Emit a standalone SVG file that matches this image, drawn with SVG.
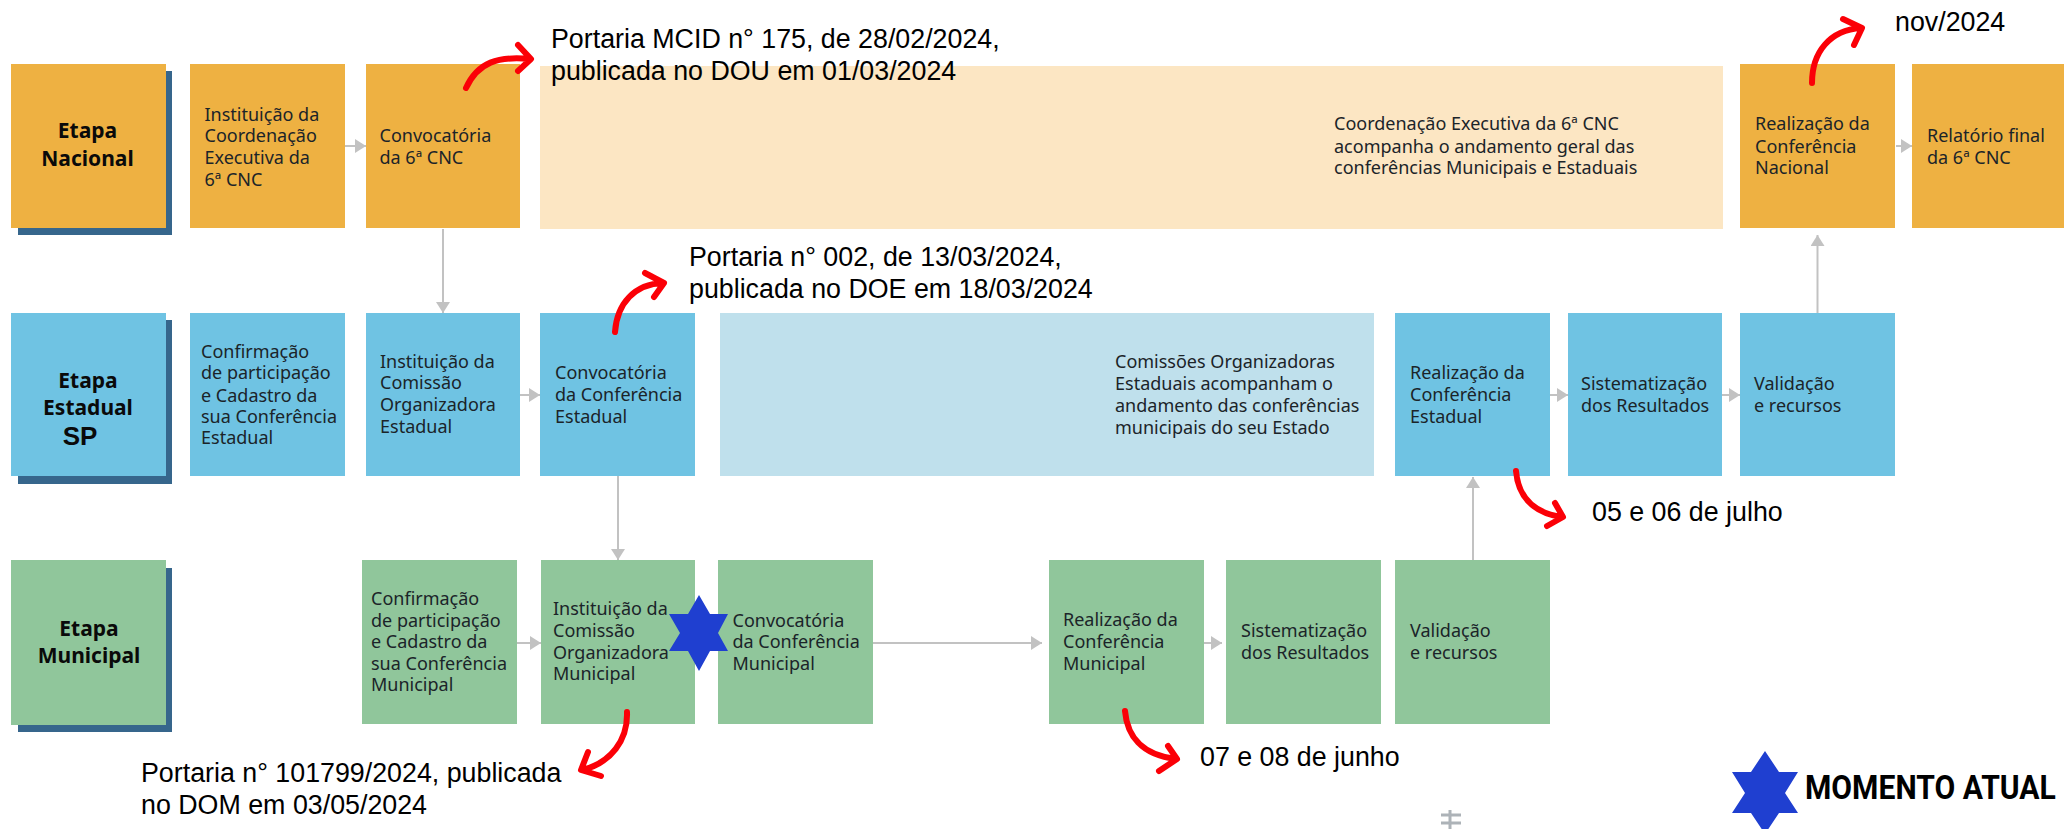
<svg xmlns="http://www.w3.org/2000/svg" width="2064" height="829" viewBox="0 0 2064 829">
<style>
.o{fill:#eeb142}.b{fill:#6fc3e3}.g{fill:#90c69b}.po{fill:#fce6c3}.pb{fill:#bfe0ec}.s{fill:#36668c}
text{font-family:"Noto Sans","Liberation Sans",sans-serif;font-size:18px;fill:#1b2429}
.h{font-weight:700;font-size:21px;text-anchor:middle;fill:#0a0a0a}
.a{font-family:"Liberation Sans",Arial,sans-serif;font-size:26.8px;fill:#000}
.c{fill:none;stroke:#c2c2c2;stroke-width:2}
.r{fill:none;stroke:#fb0007;stroke-width:6;stroke-linecap:round;stroke-linejoin:round}
.star{fill:#1f3fd0}
</style>
<defs><marker id="m" markerUnits="userSpaceOnUse" markerWidth="12" markerHeight="14" refX="11" refY="7" orient="auto"><path d="M0 0L11 7L0 14Z" fill="#c2c2c2"/></marker></defs>
<g id="n-nacional"><rect class="s" x="18" y="71" width="154" height="164"/><rect class="o" x="11" y="64" width="155" height="164"/><text class="h" x="87.500" y="138">Etapa</text><text class="h" x="87.500" y="166">Nacional</text></g>
<g id="n1"><rect class="o" x="190" y="64" width="155" height="164"/><text x="204.500" y="121">Instituição da</text><text x="204.500" y="142">Coordenação</text><text x="204.500" y="164">Executiva da</text><text x="204.500" y="186">6ª CNC</text></g>
<g id="n2"><rect class="o" x="366" y="64" width="154" height="164"/><text x="379.500" y="142">Convocatória</text><text x="379.500" y="164">da 6ª CNC</text></g>
<g id="n3"><rect class="po" x="540" y="66" width="1183" height="163"/><text x="1334" y="130">Coordenação Executiva da 6ª CNC</text><text x="1334" y="153">acompanha o andamento geral das</text><text x="1334" y="174">conferências Municipais e Estaduais</text></g>
<g id="n4"><rect class="o" x="1740" y="64" width="155" height="164"/><text x="1755" y="130">Realização da</text><text x="1755" y="153">Conferência</text><text x="1755" y="174">Nacional</text></g>
<g id="n5"><rect class="o" x="1912" y="64" width="152" height="164"/><text x="1927" y="142">Relatório final</text><text x="1927" y="164">da 6ª CNC</text></g>
<g id="n-estadual"><rect class="s" x="18" y="320" width="154" height="164"/><rect class="b" x="11" y="313" width="155" height="163"/><text class="h" x="88" y="388">Etapa</text><text class="h" x="88" y="415">Estadual</text><text class="h" x="80" y="445" style="font-family:'Liberation Sans',sans-serif;font-size:26px">SP</text></g>
<g id="e1"><rect class="b" x="190" y="313" width="155" height="163"/><text x="201" y="358">Confirmação</text><text x="201" y="379">de participação</text><text x="201" y="402">e Cadastro da</text><text x="201" y="423">sua Conferência</text><text x="201" y="444">Estadual</text></g>
<g id="e2"><rect class="b" x="366" y="313" width="154" height="163"/><text x="380" y="368">Instituição da</text><text x="380" y="389">Comissão</text><text x="380" y="411">Organizadora</text><text x="380" y="433">Estadual</text></g>
<g id="e3"><rect class="b" x="540" y="313" width="155" height="163"/><text x="555" y="379">Convocatória</text><text x="555" y="401">da Conferência</text><text x="555" y="423">Estadual</text></g>
<g id="e4"><rect class="pb" x="720" y="313" width="654" height="163"/><text x="1115" y="368">Comissões Organizadoras</text><text x="1115" y="390">Estaduais acompanham o</text><text x="1115" y="412">andamento das conferências</text><text x="1115" y="434">municipais do seu Estado</text></g>
<g id="e5"><rect class="b" x="1395" y="313" width="155" height="163"/><text x="1410" y="379">Realização da</text><text x="1410" y="401">Conferência</text><text x="1410" y="423">Estadual</text></g>
<g id="e6"><rect class="b" x="1568" y="313" width="154" height="163"/><text x="1581" y="390">Sistematização</text><text x="1581" y="412">dos Resultados</text></g>
<g id="e7"><rect class="b" x="1740" y="313" width="155" height="163"/><text x="1754" y="390">Validação</text><text x="1754" y="412">e recursos</text></g>
<g id="n-municipal"><rect class="s" x="18" y="568" width="154" height="164"/><rect class="g" x="11" y="560" width="155" height="165"/><text class="h" x="89" y="636">Etapa</text><text class="h" x="89" y="663">Municipal</text></g>
<g id="m1"><rect class="g" x="362" y="560" width="155" height="164"/><text x="371" y="605">Confirmação</text><text x="371" y="627">de participação</text><text x="371" y="648">e Cadastro da</text><text x="371" y="670">sua Conferência</text><text x="371" y="691">Municipal</text></g>
<g id="m2"><rect class="g" x="541" y="560" width="154" height="164"/><text x="553" y="615">Instituição da</text><text x="553" y="637">Comissão</text><text x="553" y="659">Organizadora</text><text x="553" y="680">Municipal</text></g>
<g id="m3"><rect class="g" x="718" y="560" width="155" height="164"/><text x="732.500" y="627">Convocatória</text><text x="732.500" y="648">da Conferência</text><text x="732.500" y="670">Municipal</text></g>
<g id="m4"><rect class="g" x="1049" y="560" width="155" height="164"/><text x="1063" y="626">Realização da</text><text x="1063" y="648">Conferência</text><text x="1063" y="670">Municipal</text></g>
<g id="m5"><rect class="g" x="1226" y="560" width="155" height="164"/><text x="1241" y="637">Sistematização</text><text x="1241" y="659">dos Resultados</text></g>
<g id="m6"><rect class="g" x="1395" y="560" width="155" height="164"/><text x="1410" y="637">Validação</text><text x="1410" y="659">e recursos</text></g>
<g id="connectors">
<path class="c" marker-end="url(#m)" d="M345 146H366"/><path class="c" marker-end="url(#m)" d="M1896 146H1912"/>
<path class="c" marker-end="url(#m)" d="M443 229V313"/><path class="c" marker-end="url(#m)" d="M1817.500 313V235"/>
<path class="c" marker-end="url(#m)" d="M520 395H540"/><path class="c" marker-end="url(#m)" d="M1550 395H1568"/><path class="c" marker-end="url(#m)" d="M1722 395H1740"/>
<path class="c" marker-end="url(#m)" d="M618 476V560"/><path class="c" marker-end="url(#m)" d="M1473 560V477"/>
<path class="c" marker-end="url(#m)" d="M517 643H541"/><path class="c" marker-end="url(#m)" d="M873 643H1042"/><path class="c" marker-end="url(#m)" d="M1204 643H1222"/>
</g>
<g id="annotations">
<path class="r" d="M466 88C478 62 498 56 530 59M518 45L531 59L518 71"/>
<path class="r" d="M1812 83C1812 52 1830 30 1861 28M1843 19L1862 28L1854 45"/>
<path class="r" d="M615 332C617 303 635 284 663 283M645 273L664 283L654 297"/>
<path class="r" d="M1516 471C1518 495 1532 513 1562 517M1555 503L1563 517L1547 526"/>
<path class="r" d="M1125 711C1127 735 1141 755 1176 759M1168 746L1177 759L1159 771"/>
<path class="r" d="M627 712C628 740 611 763 582 770M588 752L581 770L601 776"/>
<text class="a" x="551" y="48">Portaria MCID n° 175, de 28/02/2024,</text><text class="a" x="551" y="80">publicada no DOU em 01/03/2024</text>
<text class="a" x="689" y="266">Portaria n° 002, de 13/03/2024,</text><text class="a" x="689" y="298">publicada no DOE em 18/03/2024</text>
<text class="a" x="1895" y="31">nov/2024</text>
<text class="a" x="1592" y="521">05 e 06 de julho</text>
<text class="a" x="1200" y="766">07 e 08 de junho</text>
<text class="a" x="141" y="782">Portaria n° 101799/2024, publicada</text><text class="a" x="141" y="814">no DOM em 03/05/2024</text>
</g>
<path id="star" class="star" d="M699 595L710 614H728L718 633L728 651H710L699 671L688 651H669L680 633L669 614H688Z"/>
<g id="legend"><path class="star" d="M1765 751L1779 772H1798L1785 793L1798 813H1779L1765 834L1751 813H1732L1745 793L1732 772H1751Z"/><text transform="translate(1805 799) scale(.913 1)" style="font-family:Roboto,'Liberation Sans',sans-serif;font-weight:700;font-size:33px;fill:#000">MOMENTO ATUAL</text></g>
<path d="M1450 810V829M1441 815H1461M1441 823H1461" fill="none" stroke="#adb3b8" stroke-width="3"/>
</svg>
